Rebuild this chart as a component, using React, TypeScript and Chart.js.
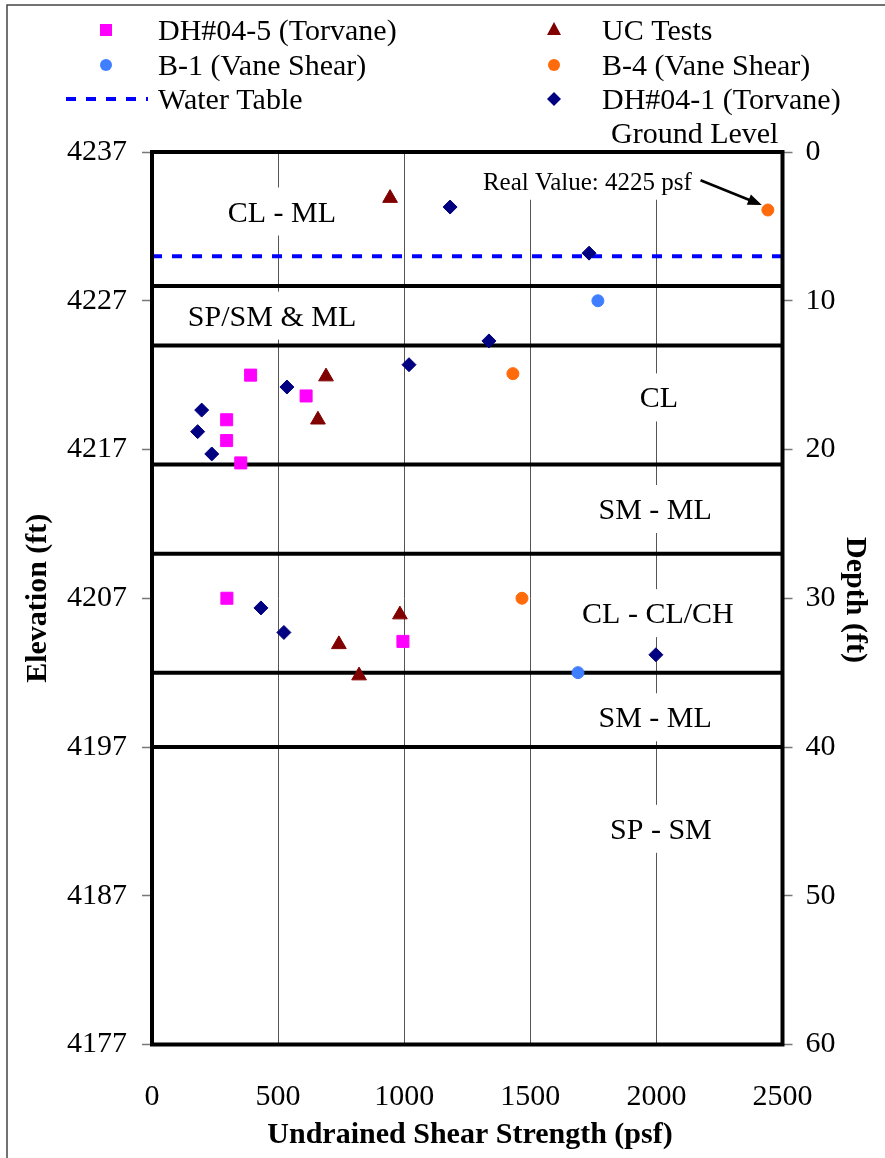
import React, { useEffect, useRef } from 'react';
import { Chart, registerables } from 'chart.js';

Chart.register(...registerables);

const FONT = "'Liberation Serif', 'Times New Roman', serif";

// Axis ticks
const xTickValues = [0, 500, 1000, 1500, 2000, 2500];
const elevationTicks = [4177, 4187, 4197, 4207, 4217, 4227, 4237];
const depthTicks = [0, 10, 20, 30, 40, 50, 60];

// Series (undrained shear strength psf, depth ft)
const dh045Strength = [391, 611, 296, 296, 352, 297, 995];
const dh045Depth = [15.0, 16.4, 18.0, 19.4, 20.9, 30.0, 32.9];
const ucStrength = [944, 690, 658, 983, 741, 821];
const ucDepth = [3.1, 15.1, 18.0, 31.1, 33.1, 35.2];
const b1Strength = [1768, 1689];
const b1Depth = [10.0, 35.0];
const b4Strength = [2442, 1431, 1467];
const b4Depth = [3.9, 14.9, 30.0];
const dh041Strength = [1182, 1733, 1336, 1019, 535, 197, 181, 237, 432, 523, 1998];
const dh041Depth = [3.7, 6.8, 12.7, 14.3, 15.8, 17.35, 18.8, 20.3, 30.65, 32.3, 33.8];

const waterTableDepth = 7;
const layerBoundaryDepths = [9, 13, 21, 27, 35, 40];
const layerNames = ['CL - ML', 'SP/SM & ML', 'CL', 'SM - ML', 'CL - CL/CH', 'SM - ML', 'SP - SM'];
const layerLabelStrength = [515, 476, 2010, 1995, 2006, 1995, 2018];
const layerLabelDepth = [4.0, 11.0, 16.5, 24.0, 31.0, 38.0, 45.5];

const noteText = 'Real Value: 4225 psf';
const noteStrength = 1312;
const noteDepth = 2.0;
const arrowFrom = [2175, 1.9];
const arrowTo = [2418, 3.56];

const COLORS = {
  dh045: '#FF00FF',
  uc: '#800000',
  b1: '#3F7FFF',
  b4: '#FF6A0A',
  dh041: '#000080',
  water: '#0000FF',
};

const legendItems = [
  { label: 'DH#04-5 (Torvane)', kind: 'square', color: COLORS.dh045, col: 0, row: 0 },
  { label: 'UC Tests', kind: 'triangle', color: COLORS.uc, col: 1, row: 0 },
  { label: 'B-1 (Vane Shear)', kind: 'circle', color: COLORS.b1, col: 0, row: 1 },
  { label: 'B-4 (Vane Shear)', kind: 'circle', color: COLORS.b4, col: 1, row: 1 },
  { label: 'Water Table', kind: 'dash', color: COLORS.water, col: 0, row: 2 },
  { label: 'DH#04-1 (Torvane)', kind: 'diamond', color: COLORS.dh041, col: 1, row: 2 },
];

const pts = (xs: number[], ys: number[]) => xs.map((x, i) => ({ x, y: ys[i] }));

function drawMarker(ctx: CanvasRenderingContext2D, kind: string, x: number, y: number, color: string) {
  ctx.save();
  ctx.fillStyle = color;
  ctx.strokeStyle = color;
  ctx.beginPath();
  if (kind === 'square') {
    ctx.rect(x - 6, y - 6, 12, 12);
    ctx.fill();
  } else if (kind === 'triangle') {
    ctx.moveTo(x, y - 8);
    ctx.lineTo(x + 7, y + 5);
    ctx.lineTo(x - 7, y + 5);
    ctx.closePath();
    ctx.fill();
  } else if (kind === 'circle') {
    ctx.arc(x, y, 6, 0, Math.PI * 2);
    ctx.fill();
  } else if (kind === 'diamond') {
    ctx.moveTo(x, y - 7);
    ctx.lineTo(x + 7, y);
    ctx.lineTo(x, y + 7);
    ctx.lineTo(x - 7, y);
    ctx.closePath();
    ctx.fill();
  } else if (kind === 'dash') {
    ctx.lineWidth = 4;
    ctx.setLineDash([10, 10]);
    ctx.moveTo(x - 40, y);
    ctx.lineTo(x + 42, y);
    ctx.stroke();
  }
  ctx.restore();
}

const decorPlugin = {
  id: 'decor',
  beforeDatasetsDraw(chart: any) {
    const { ctx } = chart;
    const xs = chart.scales.x;
    const ys = chart.scales.depth;
    ctx.save();
    ctx.font = `30px ${FONT}`;
    ctx.textAlign = 'center';
    ctx.textBaseline = 'alphabetic';
    layerNames.forEach((name, i) => {
      const px = xs.getPixelForValue(layerLabelStrength[i]);
      const py = ys.getPixelForValue(layerLabelDepth[i]);
      const w = ctx.measureText(name).width;
      ctx.fillStyle = '#ffffff';
      ctx.fillRect(px - w / 2 - 6, py - 24, w + 12, 48);
      ctx.fillStyle = '#000000';
      ctx.fillText(name, px, py + 10);
    });
    // note
    ctx.font = `25px ${FONT}`;
    ctx.textAlign = 'left';
    const nx = xs.getPixelForValue(noteStrength);
    const ny = ys.getPixelForValue(noteDepth);
    const nw = ctx.measureText(noteText).width;
    ctx.fillStyle = '#ffffff';
    ctx.fillRect(nx - 4, chart.chartArea.top + 2, nw + 10, ny + 16 - chart.chartArea.top);
    ctx.fillStyle = '#000000';
    ctx.fillText(noteText, nx, ny + 8);
    // arrow
    const ax0 = xs.getPixelForValue(arrowFrom[0]);
    const ay0 = ys.getPixelForValue(arrowFrom[1]);
    const ax1 = xs.getPixelForValue(arrowTo[0]);
    const ay1 = ys.getPixelForValue(arrowTo[1]);
    const ang = Math.atan2(ay1 - ay0, ax1 - ax0);
    ctx.strokeStyle = '#000';
    ctx.lineWidth = 2.5;
    ctx.beginPath();
    ctx.moveTo(ax0, ay0);
    ctx.lineTo(ax1 - 10 * Math.cos(ang), ay1 - 10 * Math.sin(ang));
    ctx.stroke();
    ctx.fillStyle = '#000';
    ctx.beginPath();
    ctx.moveTo(ax1, ay1);
    ctx.lineTo(ax1 - 14 * Math.cos(ang) + 5.5 * Math.sin(ang), ay1 - 14 * Math.sin(ang) - 5.5 * Math.cos(ang));
    ctx.lineTo(ax1 - 14 * Math.cos(ang) - 5.5 * Math.sin(ang), ay1 - 14 * Math.sin(ang) + 5.5 * Math.cos(ang));
    ctx.closePath();
    ctx.fill();
    ctx.restore();
  },
  afterDatasetsDraw(chart: any) {
    const { ctx, chartArea } = chart;
    ctx.save();
    ctx.strokeStyle = '#000';
    ctx.lineWidth = 4;
    ctx.strokeRect(chartArea.left, chartArea.top, chartArea.right - chartArea.left, chartArea.bottom - chartArea.top);
    ctx.restore();
  },
  afterDraw(chart: any) {
    const { ctx, chartArea } = chart;
    ctx.save();
    // outer border (left + top)
    ctx.strokeStyle = '#444';
    ctx.lineWidth = 1.5;
    ctx.beginPath();
    ctx.moveTo(7, 1158);
    ctx.lineTo(7, 5);
    ctx.lineTo(885, 5);
    ctx.stroke();

    // legend
    const markerX = [106, 554];
    const textX = [158, 602];
    const rowY = [30, 65, 99];
    ctx.font = `30px ${FONT}`;
    ctx.textAlign = 'left';
    ctx.textBaseline = 'alphabetic';
    legendItems.forEach((it) => {
      const y = rowY[it.row];
      drawMarker(ctx, it.kind, markerX[it.col], y, it.color);
      ctx.fillStyle = '#000';
      ctx.fillText(it.label, textX[it.col], y + 10);
    });

    // Ground level
    ctx.fillText('Ground Level', 611, 143);

    // axis titles
    ctx.font = `bold 30px ${FONT}`;
    ctx.textAlign = 'center';
    ctx.fillText('Undrained Shear Strength (psf)', 470, 1143);

    const midY = (chartArea.top + chartArea.bottom) / 2;
    ctx.save();
    ctx.translate(46, midY);
    ctx.rotate(-Math.PI / 2);
    ctx.fillText('Elevation (ft)', 0, 0);
    ctx.restore();

    ctx.save();
    ctx.translate(847, 600);
    ctx.rotate(Math.PI / 2);
    ctx.fillText('Depth (ft)', 0, 0);
    ctx.restore();

    ctx.restore();
  },
};

export default function App() {
  const canvasRef = useRef<HTMLCanvasElement | null>(null);

  useEffect(() => {
    if (!canvasRef.current) return;
    const lineDs = (d: number, color: string, width: number, dash: number[] = []) => ({
      type: 'line' as const,
      data: [{ x: 0, y: d }, { x: 2500, y: d }],
      borderColor: color,
      borderWidth: width,
      borderDash: dash,
      pointRadius: 0,
      fill: false,
      order: 5,
      xAxisID: 'x',
      yAxisID: 'depth',
    });
    const scatterDs = (label: string, xs: number[], ys: number[], style: string, radius: number, color: string) => ({
      type: 'scatter' as const,
      label,
      data: pts(xs, ys),
      pointStyle: style,
      pointRadius: radius,
      pointBackgroundColor: color,
      pointBorderColor: color,
      pointBorderWidth: 1,
      showLine: false,
      order: 0,
      xAxisID: 'x',
      yAxisID: 'depth',
    });
    const plainLabel = (v: any) => String(v);

    const chart = new Chart(canvasRef.current, {
      type: 'scatter',
      data: {
        datasets: [
          scatterDs('DH#04-5 (Torvane)', dh045Strength, dh045Depth, 'rect', 8.5, COLORS.dh045),
          scatterDs('UC Tests', ucStrength, ucDepth, 'triangle', 8.5, COLORS.uc),
          scatterDs('B-1 (Vane Shear)', b1Strength, b1Depth, 'circle', 6, COLORS.b1),
          scatterDs('B-4 (Vane Shear)', b4Strength, b4Depth, 'circle', 6, COLORS.b4),
          scatterDs('DH#04-1 (Torvane)', dh041Strength, dh041Depth, 'rectRot', 7, COLORS.dh041),
          lineDs(waterTableDepth, COLORS.water, 4, [10, 10]),
          ...layerBoundaryDepths.map((d) => lineDs(d, '#000000', 4)),
        ] as any,
      },
      options: {
        responsive: true,
        maintainAspectRatio: false,
        animation: false,
        devicePixelRatio: 1,
        layout: { padding: { top: 152, left: 0, right: 0, bottom: 0 } },
        plugins: {
          legend: { display: false },
          tooltip: { enabled: false },
        },
        scales: {
          x: {
            type: 'linear',
            position: 'bottom',
            min: 0,
            max: 2500,
            afterBuildTicks: (s: any) => {
              s.ticks = xTickValues.map((v) => ({ value: v }));
            },
            afterFit: (s: any) => {
              s.height = 113.5;
            },
            ticks: {
              font: { family: FONT, size: 30 },
              color: '#000',
              padding: 35,
              maxRotation: 0,
              callback: plainLabel,
            },
            grid: {
              color: '#555',
              lineWidth: 1,
              drawTicks: false,
            },
            border: { display: false },
          },
          elev: {
            type: 'linear',
            position: 'left',
            min: 4177,
            max: 4237,
            afterBuildTicks: (s: any) => {
              s.ticks = elevationTicks.map((v) => ({ value: v }));
            },
            afterFit: (s: any) => {
              s.width = 152;
            },
            ticks: {
              font: { family: FONT, size: 30 },
              color: '#000',
              padding: 15,
              callback: plainLabel,
            },
            grid: {
              drawOnChartArea: false,
              drawTicks: true,
              tickLength: 10,
              tickColor: '#777',
              tickWidth: 1.5,
            },
            border: { display: false },
          },
          depth: {
            type: 'linear',
            position: 'right',
            reverse: true,
            min: 0,
            max: 60,
            afterBuildTicks: (s: any) => {
              s.ticks = depthTicks.map((v) => ({ value: v }));
            },
            afterFit: (s: any) => {
              s.width = 102.5;
            },
            ticks: {
              font: { family: FONT, size: 30 },
              color: '#000',
              padding: 13,
              callback: plainLabel,
            },
            grid: {
              drawOnChartArea: false,
              drawTicks: true,
              tickLength: 10,
              tickColor: '#777',
              tickWidth: 1.5,
            },
            border: { display: false },
          },
        },
      } as any,
      plugins: [decorPlugin],
    });
    return () => chart.destroy();
  }, []);

  return (
    <div style={{ position: 'absolute', left: 0, top: 0, width: 885, height: 1158, background: '#fff' }}>
      <canvas ref={canvasRef} />
    </div>
  );
}
